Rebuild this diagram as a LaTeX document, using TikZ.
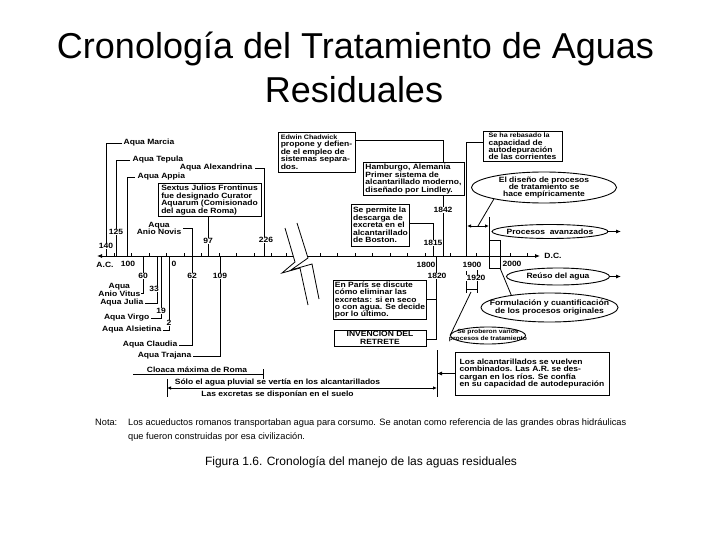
\documentclass[tikz,border=0pt]{standalone}
\usepackage{fontspec}
\setmainfont{Liberation Sans}
\newfontfamily\bxf{Liberation Sans}[FakeStretch=1.12]
\usetikzlibrary{shapes.geometric,arrows.meta}
\newcommand\labfont{\bxf\bfseries\fontsize{7.6}{7.4}\selectfont}
\newcommand\smlfont{\bxf\bfseries\fontsize{6.4}{7.4}\selectfont}
\newcommand\tinyfont{\bxf\bfseries\fontsize{6}{6.4}\selectfont}
\tikzset{
  ln/.style={line width=0.8pt},
  lab/.style={font=\labfont, inner sep=0.5pt},
  num/.style={font=\labfont, inner sep=0.6pt, fill=white},
  tbox/.style={draw, line width=0.9pt, fill=white, font=\labfont, align=left, inner sep=1.5pt},
  ell/.style={ellipse, draw, line width=0.9pt, fill=white, inner sep=0pt},
  arr/.style={-{Latex[length=5pt,width=4pt]}},
  darr/.style={{Latex[length=4pt,width=3.5pt]}-{Latex[length=4pt,width=3.5pt]}},
}
\begin{document}
\begin{tikzpicture}[x=1pt,y=-1pt]
\path[fill=white] (0,0) rectangle (720,540);
\useasboundingbox (0,0) rectangle (720,540);

% title
\node[font=\fontsize{36}{43}\selectfont, anchor=base, inner sep=0] (title1) at (355.5,59) {Cronología del Tratamiento de Aguas};
\node[font=\fontsize{36}{43}\selectfont, anchor=base, inner sep=0] (title2) at (354,103) {Residuales};

% axis
\coordinate (axL) at (97,256);
\coordinate (brL) at (293,256);
\coordinate (brR) at (307.5,256);
\coordinate (axR) at (540,256);
\draw[ln,arr] (brL) -- (axL);
\draw[ln,arr] (brR) -- (axR);
\foreach \x in {114,131,149,166,184,201,219,236,254,271,286,320,337,355,372,390,407,425,450,476,510,527}
  \draw[ln] (\x,256) -- (\x,252.5);
% break
\draw[ln] (285,228) -- (295,262) -- (282,273) -- (300,268) -- (308,305);
\draw[ln] (297,223) -- (308,258) -- (291,270) -- (312,264) -- (319,299);

\node[lab] (ac) at (105,265) {A.C.};
\node[lab] (dc) at (553,256) {D.C.};
\node[lab] (y100) at (128,264) {100};
\node[lab] (y0) at (174,264) {0};
\node[lab] (y1800) at (426,265) {1800};
\node[lab] (y1900) at (472,265) {1900};
\node[lab] (y2000) at (512,264) {2000};

% ---- above axis, left
\node[lab,anchor=west] (marcia) at (123,143) {Aqua Marcia};
\coordinate (t140) at (106,256);
\draw[ln] ([xshift=-1pt]marcia.west) -| (t140);
\node[num] at (106,246) {140};

\node[lab,anchor=west] (tepula) at (132,160) {Aqua Tepula};
\coordinate (t125) at (116,256);
\draw[ln] ([xshift=-2pt]tepula.west) -| (t125);
\node[num] at (116,232) {125};

\node[lab,anchor=west] (appia) at (137,177) {Aqua Appia};
\coordinate (tappia) at (127,256);
\draw[ln] ([xshift=-2pt]appia.west) -| (tappia);

\node[lab,anchor=east] (alex) at (253,168) {Aqua Alexandrina};
\coordinate (t226) at (264,256);
\draw[ln] ([xshift=2pt]alex.east) -| (t226);
\node[num] at (266,240) {226};

\node[tbox, minimum width=103, minimum height=32] (sextus) at (209.5,200) {Sextus Julios Frontinus\\fue designado Curator\\Aquarum (Comisionado\\del agua de Roma)};
\coordinate (t97) at (208,256);
\draw[ln] (sextus.south -| t97) -- (t97);
\node[num] at (208,241) {97};

\node[lab,align=center,anchor=east] (novis) at (182,228.5) {Aqua\\Anio Novis};
\coordinate (t52) at (192,256);
\draw[ln] ([xshift=1pt]novis.east) -| (t52);

% ---- below axis, left
\node[lab,align=center,anchor=east] (vitus) at (141,290) {Aqua\\Anio Vitus};
\coordinate (t60) at (143,256);
\draw[ln] ([yshift=-3.5pt]vitus.east) -| (t60);
\node[num] at (143,276) {60};

\node[lab,anchor=east] (julia) at (144,303) {Aqua Julia};
\coordinate (t33) at (157,256);
\draw[ln] ([xshift=1pt]julia.east) -| (t33);
\node[num] at (154,289) {33};

\node[lab,anchor=east] (virgo) at (150,318) {Aqua Virgo};
\coordinate (t19) at (161,256);
\draw[ln] ([xshift=1pt]virgo.east) -| (t19);
\node[num] at (161,311) {19};

\node[lab,anchor=east] (alsietina) at (162,330) {Aqua Alsietina};
\coordinate (t2) at (169,256);
\draw[ln] ([xshift=1pt]alsietina.east) -| (t2);
\node[num] at (169,323) {2};

\node[lab,anchor=east] (claudia) at (178,345) {Aqua Claudia};
\draw[ln] ([xshift=1pt]claudia.east) -| (t52);
\node[num] at (192,276) {62};

\node[lab,anchor=east] (trajana) at (192,356) {Aqua Trajana};
\coordinate (t109) at (220,256);
\draw[ln] ([xshift=1pt]trajana.east) -| (t109);
\node[num] at (220,276) {109};

% ---- middle
\node[tbox, minimum width=77, minimum height=40] (chadwick) at (316.5,152) {{\smlfont Edwin Chadwick}\\propone y defien-\\de el empleo de\\sistemas separa-\\dos.};
\coordinate (t1842) at (443,256);
\draw[ln] ([yshift=12pt]chadwick.east) -| (t1842);
\node[tbox, minimum width=101, minimum height=32] (hamburg) at (413.5,179) {Hamburgo, Alemania\\Primer sistema de\\alcantarillado moderno,\\diseñado por Lindley.};
\node[num] at (443,210) {1842};

\node[tbox, minimum width=57, minimum height=42] (boston) at (380.5,225) {Se permite la\\descarga de\\excreta en el\\alcantarillado\\de Boston.};
\coordinate (t1815) at (433,256);
\draw[ln] ([yshift=2pt]boston.east) -| (t1815);
\node[num] at (433,243) {1815};

\node[tbox, minimum width=92, minimum height=38] (paris) at (380,300) {En París se discute\\cómo eliminar las\\excretas: si en seco\\o con agua. Se decide\\por lo último.};
\node[tbox, align=center, minimum width=92, minimum height=16] (retrete) at (380,338) {INVENCION DEL\\RETRETE};
\coordinate (t1820) at (436,256);
\coordinate (t1820b) at (436,339);
\draw[ln] (t1820) -- (t1820b) -- (retrete.east |- t1820b);
\draw[ln] ([yshift=1pt]paris.east) -- ([yshift=1pt]paris.east -| t1820);
\node[num] at (437,276) {1820};

% ---- right
\node[tbox, minimum width=79, minimum height=29] (rebasado) at (522.5,146.5) {{\smlfont Se ha rebasado la}\\capacidad de\\autodepuración\\de las corrientes};
\coordinate (t1900) at (466,256);
\draw[ln] ([yshift=4.5pt]rebasado.west) -| (t1900);

\node[ell, minimum width=145, minimum height=31] (disenio) at (544,187.5) {};
\node[lab, align=center] at (disenio) {El diseño de procesos\\de tratamiento se\\hace empíricamente};
\coordinate (da1) at (467,226);
\coordinate (da2) at (489,226);
\coordinate (dam) at (478,226);
\draw[ln,darr] (da1) -- (da2);
\draw[ln] (disenio.193) -- (dam);

\coordinate (r1) at (489,217);
\coordinate (r2) at (489,268);
\coordinate (r3) at (500,268);
\coordinate (r4) at (500,240);
\coordinate (r5) at (489,240);
\draw[ln] (r1) -- (r2) -- (r3) -- (r4) -- (r5);

\node[ell, minimum width=116, minimum height=14] (avanz) at (550,231.5) {};
\node[lab] at (avanz) {Procesos\ \ avanzados};
\coordinate (avR) at (621,231.5);
\draw[ln,arr] (avanz.east) -- (avR);

\node[ell, minimum width=103, minimum height=17] (reuso) at (558,276.5) {};
\node[lab] at (reuso) {Reúso del agua};
\coordinate (reR) at (621,276.5);
\draw[ln,arr] (reuso.east) -- (reR);

\node[ell, minimum width=137, minimum height=29] (formul) at (549.5,307.5) {};
\node[lab, align=center, font=\bxf\bfseries\fontsize{7.7}{8}\selectfont] at (formul) {Formulación y cuantificación\\de los procesos originales};
\draw[ln] (r3) -- (formul.162);

% bracket 1900-1920
\coordinate (b1) at (466,271);
\coordinate (b2) at (466,293);
\coordinate (b3) at (477,270);
\coordinate (b4) at (477,293);
\coordinate (b5) at (466,289);
\coordinate (b6) at (477,289);
\coordinate (b7) at (471,292);
\draw[ln] (b1) -- (b2);
\draw[ln] (b3) -- (b4);
\draw[ln] (b5) -- (b6);
\node[num] at (476,278) {1920};

\node[ell, minimum width=75, minimum height=17] (prob) at (488,335.5) {};
\node[lab, align=center, font=\tinyfont] at (prob) {Se proberon varios\\procesos de tratamiento};
\draw[ln] (b7) -- (prob.west);

\node[tbox, minimum width=154, minimum height=43] (combin) at (532,373.5) {Los alcantarillados se vuelven\\combinados. Las A.R. se des-\\cargan en los ríos. Se confía\\en su capacidad de autodepuración};
\coordinate (vtop) at (437,350);
\coordinate (vbot) at (437,397);
\draw[ln] (vtop) -- (vbot);
\draw[ln,arr] (combin.west) -- (combin.west -| vtop);

% bottom spans
\node[lab] (cloaca) at (197,369.5) {Cloaca máxima de Roma};
\coordinate (cl1) at (133,374.5);
\coordinate (cl2) at (263,374.5);
\draw[ln] (cl1) -- (cl2);
\draw[ln] (263,369) -- (263,379);

\coordinate (so1) at (167,388);
\coordinate (so2) at (437,388);
\draw[ln] (167,379) -- (167,397);
\draw[ln,darr] (so1) -- (so2);
\node[lab] (solo) at (277.5,382.5) {Sólo el agua pluvial se vertía en los alcantarillados};
\node[lab] (excr) at (277.5,394) {Las excretas se disponían en el suelo};

% note and caption
\node[font=\fontsize{9.25}{11}\selectfont, anchor=base west, inner sep=0] (nota) at (95,425) {Nota:};
\node[font=\fontsize{9.25}{11}\selectfont, anchor=base west, inner sep=0] (nota1) at (128,425) {Los acueductos romanos transportaban agua para corsumo. Se anotan como referencia de las grandes obras hidráulicas};
\node[font=\fontsize{9.25}{11}\selectfont, anchor=base west, inner sep=0] (nota2) at (128,439) {que fueron construidas por esa civilización.};
\node[font=\fontsize{12}{14}\selectfont, anchor=base, inner sep=0] (caption) at (361,465) {Figura 1.6. Cronología del manejo de las aguas residuales};
\end{tikzpicture}
\end{document}
